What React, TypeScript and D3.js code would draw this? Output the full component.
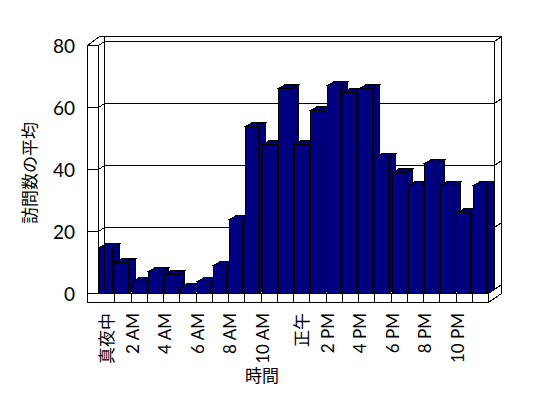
import React from 'react';
import * as d3 from 'd3';

const hours = [0, 1, 2, 3, 4, 5, 6, 7, 8, 9, 10, 11, 12, 13, 14, 15, 16, 17, 18, 19, 20, 21, 22, 23];
const visits = [15, 10, 4, 7, 6, 2, 4, 9, 24, 54, 48, 66, 48, 59, 67, 65, 66, 44, 39, 35, 42, 35, 26, 35];
const tickHours = [0, 2, 4, 6, 8, 10, 12, 14, 16, 18, 20, 22];
const tickLabels = ['真夜中', '2 AM', '4 AM', '6 AM', '8 AM', '10 AM', '正午', '2 PM', '4 PM', '6 PM', '8 PM', '10 PM'];
const yTicks = [0, 20, 40, 60, 80];
const xTitle = '時間';
const yTitle = '訪問数の平均';

const W = 548;
const H = 398;
const FX0 = 98;      // front plane left
const FX1 = 488;     // front plane right
const FY0 = 293;     // front baseline
const FY1 = 45;      // front top (80)
const DX = 6, DY = -4;          // depth to back wall
const OX = 7, OY = -5;          // back wall thickness
const WALL_L = 87;   // left wall outer x
const FLOOR_B = 302; // floor front bottom
const BW = 13;       // bar front width
const BDX = 7, BDY = -4; // bar depth

const NAVY = '#000080';
const FONT = 'Lato, "Liberation Sans", "Noto Sans CJK JP", sans-serif';

export default function App() {
  const x = d3.scaleBand<number>().domain(hours).range([FX0, FX1]).paddingInner(0).paddingOuter(0);
  const y = d3.scaleLinear().domain([0, 80]).range([FY0, FY1]);
  const p = (v: number) => Math.round(v) + 0.5;

  const bx0 = FX0 + DX, bx1 = FX1 + DX;
  const yb = (v: number) => y(v) + DY;

  const line = (x1: number, y1: number, x2: number, y2: number, key?: string) => (
    <line key={key} x1={p(x1)} y1={p(y1)} x2={p(x2)} y2={p(y2)} stroke="#000" strokeWidth={1} />
  );

  const isCJK = (s: string) => /[\u3000-\u9fff]/.test(s);

  return (
    <svg width={W} height={H} style={{ position: 'absolute', left: 0, top: 0, background: '#fff' }}
      shapeRendering="crispEdges">
      <defs>
        <pattern id="dither" width={2} height={2} patternUnits="userSpaceOnUse">
          <rect width={2} height={2} fill="#000" />
          <rect width={1} height={1} fill={NAVY} />
          <rect x={1} y={1} width={1} height={1} fill={NAVY} />
        </pattern>
      </defs>

      {/* back wall */}
      <rect x={p(bx0)} y={p(yb(80))} width={Math.round(bx1 - bx0)} height={Math.round(yb(0) - yb(80))} fill="#fff" stroke="#000" />
      {yTicks.map((t) => line(bx0, yb(t), bx1, yb(t), 'g' + t))}
      {/* back wall thickness top + right */}
      {line(WALL_L + DX + OX - 1, yb(80) + OY, bx1 + OX, yb(80) + OY, 'ot')}
      {line(bx1, yb(80), bx1 + OX, yb(80) + OY, 'otr')}
      {line(bx1 + OX, yb(80) + OY, bx1 + OX, y(0), 'or')}
      {yTicks.slice(0, -1).map((t) => line(bx1, yb(t), bx1 + OX, yb(t) + OY, 'rt' + t))}

      {/* bars */}
      {hours.map((h, i) => {
        const bx = Math.round(x(h)!) + 1.5;
        const top = Math.round(y(visits[i])) + 0.5;
        const bot = FY0 + 0.5;
        const side = `${bx + BW},${bot} ${bx + BW},${top} ${bx + BW + BDX},${top + BDY} ${bx + BW + BDX},${bot + BDY}`;
        const topF = `${bx},${top} ${bx + BDX},${top + BDY} ${bx + BW + BDX},${top + BDY} ${bx + BW},${top}`;
        return (
          <g key={h}>
            <polygon points={side} fill="url(#dither)" stroke="#000" />
            <polygon points={topF} fill="url(#dither)" stroke="#000" />
            <rect x={bx} y={top} width={BW} height={bot - top} fill={NAVY} stroke="#000" />
          </g>
        );
      })}

      {/* floor front face */}
      <rect x={p(WALL_L)} y={p(FY0)} width={FX1 - WALL_L} height={FLOOR_B - FY0} fill="#fff" stroke="#000" />
      {hours.slice(1).map((h) => line(x(h)!, FY0, x(h)!, FLOOR_B, 'ft' + h))}
      {line(FX1, FLOOR_B, bx1 + OX, y(0), 'fr1')}
      {line(FX1, FY0, bx1, yb(0), 'fr2')}

      {/* left wall */}
      <polygon points={`${p(WALL_L)},${p(FY1)} ${p(WALL_L + DX + OX - 1)},${p(yb(80) + OY)} ${p(bx0)},${p(yb(80) + OY)} ${p(bx0)},${p(yb(80))} ${p(FX0)},${p(FY1)}`} fill="#fff" stroke="#000" />
      <rect x={p(WALL_L)} y={p(FY1)} width={FX0 - WALL_L} height={FY0 - FY1} fill="#fff" stroke="#000" />
      {line(bx0, yb(80), bx0, yb(0), 'lin')}
      {yTicks.slice(1, -1).map((t) => (
        <g key={'lt' + t}>
          {line(WALL_L, y(t), FX0, y(t))}
          {line(FX0, y(t), bx0, yb(t))}
        </g>
      ))}

      {/* y tick labels */}
      {yTicks.map((t) => (
        <text key={'yl' + t} x={75} y={y(t)} textAnchor="end" dominantBaseline="central"
          fontFamily={FONT} fontSize={19} fill="#000">{t}</text>
      ))}

      {/* x tick labels */}
      {tickHours.map((h, k) => {
        const cx = x(h)! + x.bandwidth() / 2;
        const lab = tickLabels[k];
        const cjk = isCJK(lab);
        return (
          <text key={'xl' + h} transform={`translate(${cx},313) rotate(-90)`} textAnchor="end"
            dominantBaseline={cjk ? 'central' : 'alphabetic'}
            fontFamily={FONT} fontSize={cjk ? 17 : 17} fill="#000">{lab}</text>
        );
      })}

      {/* titles */}
      <text x={262} y={375} textAnchor="middle" dominantBaseline="central" fontFamily={FONT} fontSize={17} fill="#000">{xTitle}</text>
      <text transform="translate(29,173) rotate(-90)" textAnchor="middle" dominantBaseline="central" fontFamily={FONT} fontSize={17} fill="#000">{yTitle}</text>
    </svg>
  );
}
